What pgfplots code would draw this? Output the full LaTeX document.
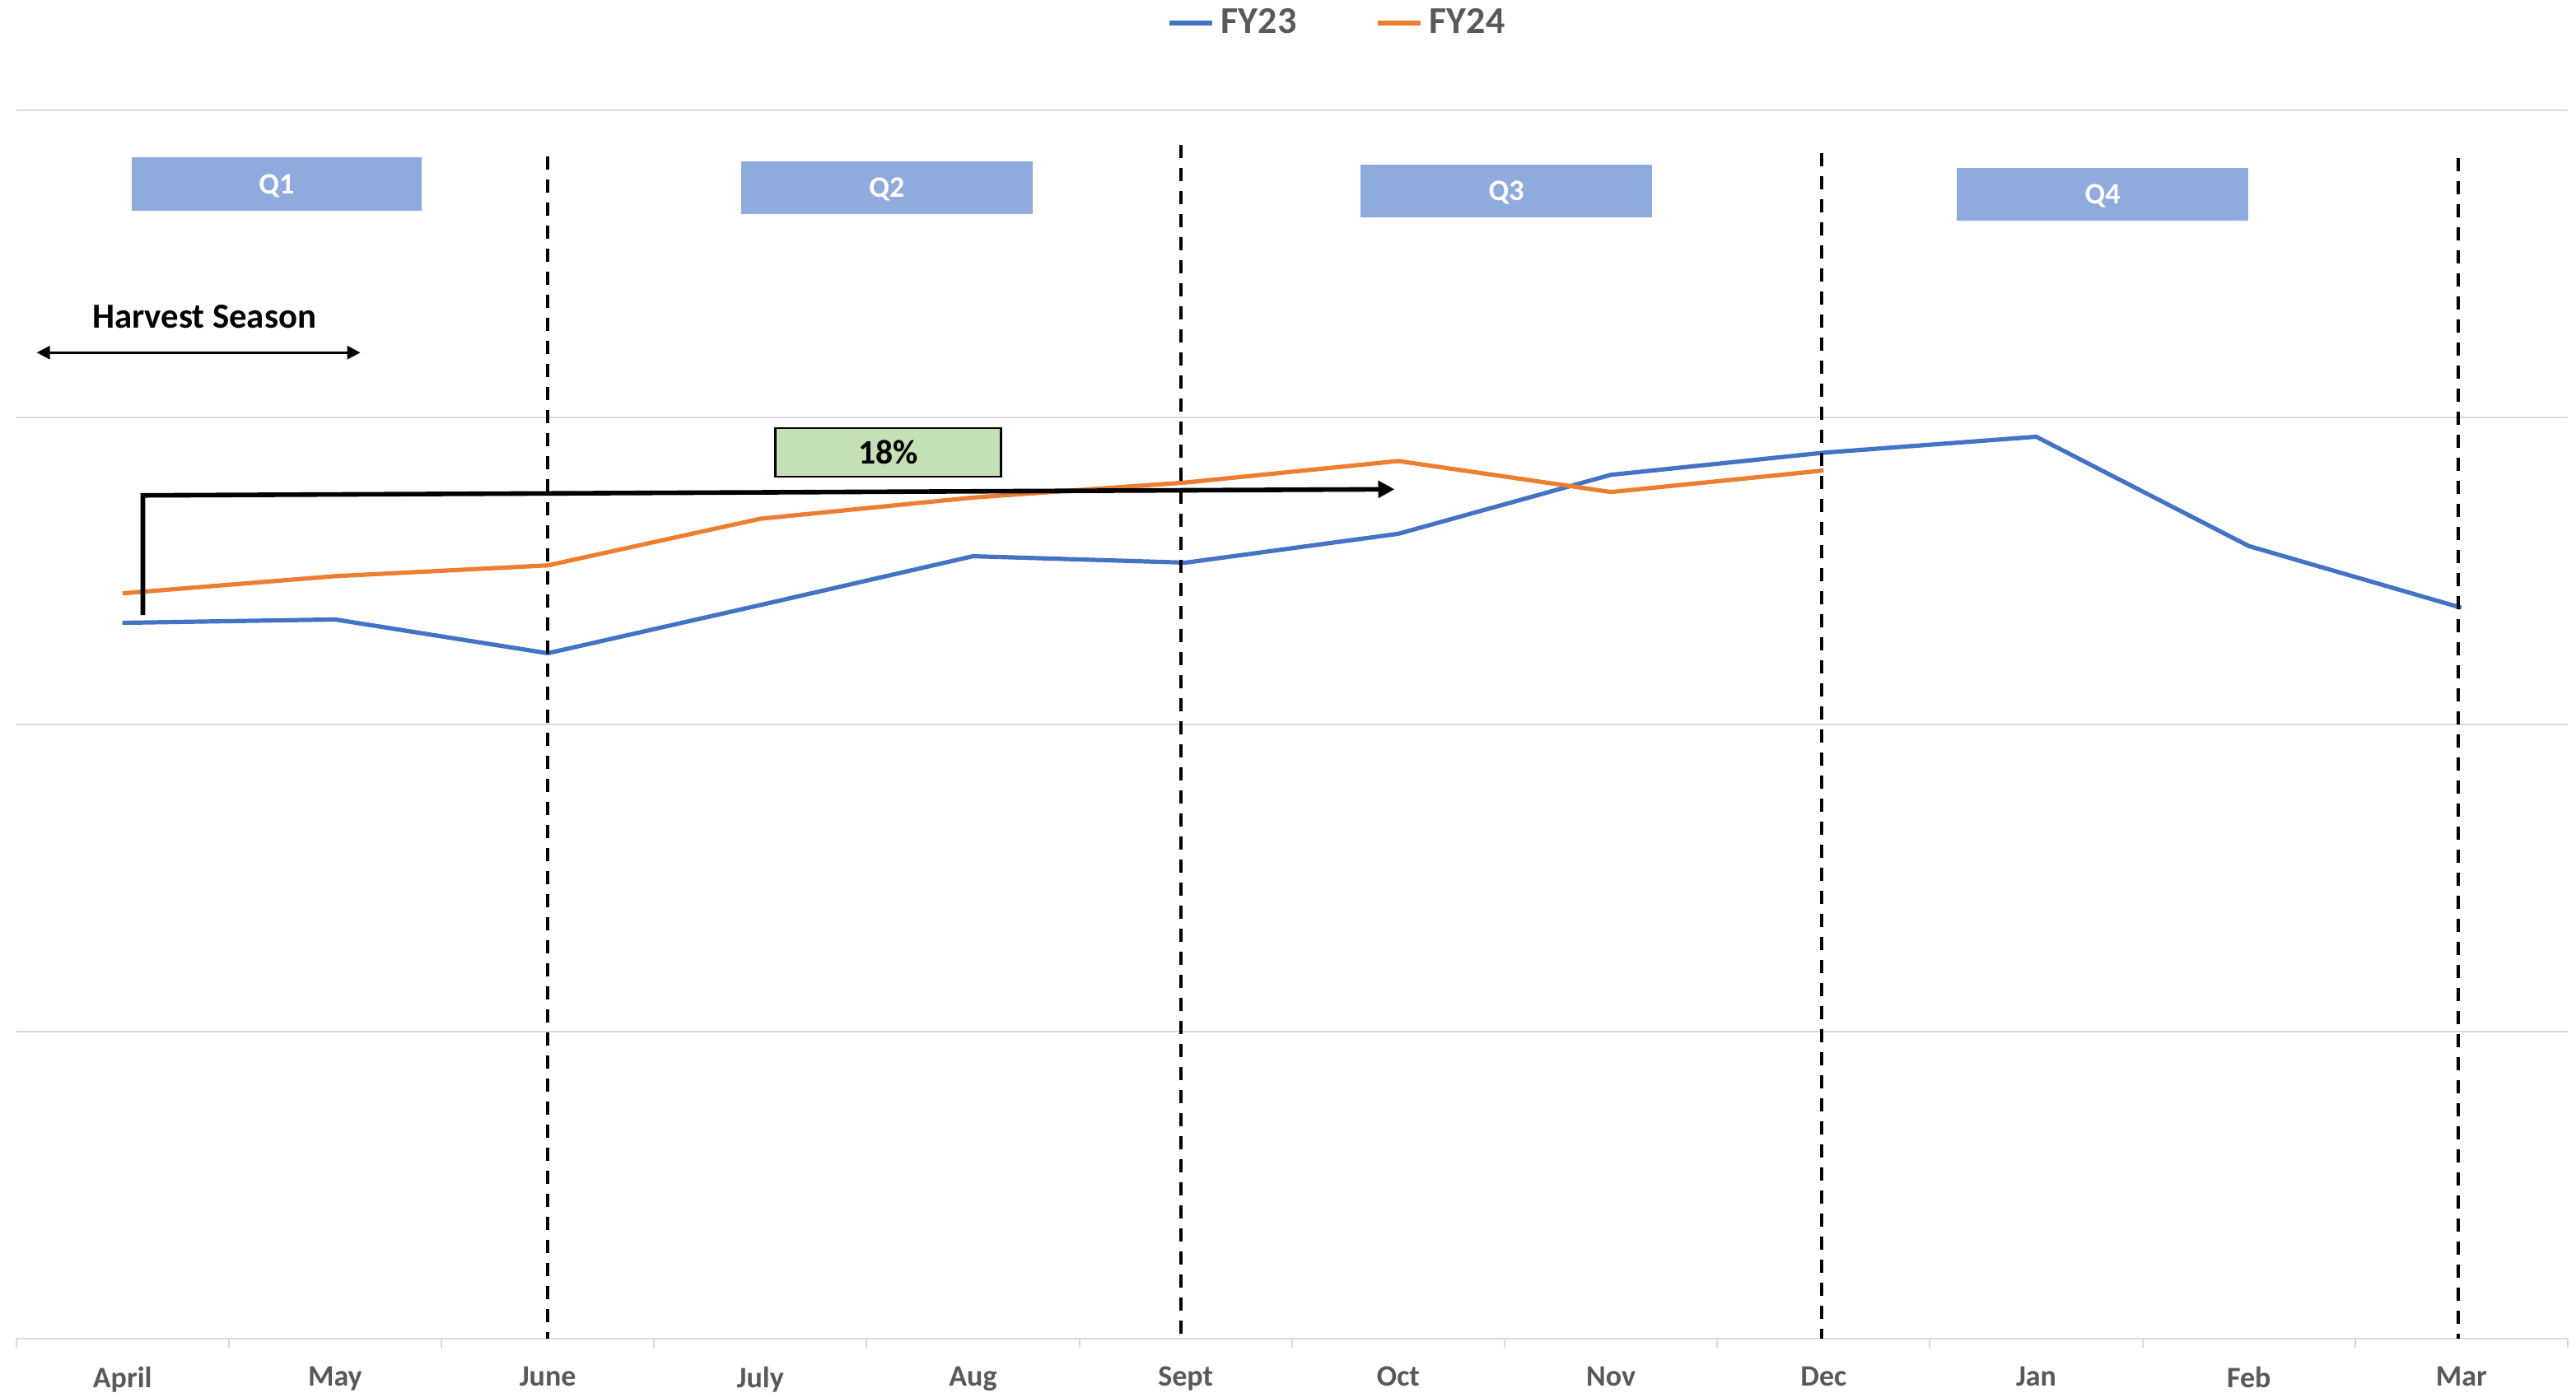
\documentclass[border=0pt]{standalone}
\usepackage{fontspec}
\setmainfont{Carlito}
\usepackage{pgfplots}
\pgfplotsset{compat=1.18}
\usetikzlibrary{arrows.meta}
\definecolor{fyblue}{HTML}{4472C4}
\definecolor{fyorange}{HTML}{ED7D31}
\definecolor{qblue}{HTML}{8FAADC}
\definecolor{pctgreen}{HTML}{C5E0B4}
\definecolor{txtgray}{HTML}{595959}
\definecolor{gridgray}{HTML}{D9D9D9}

\begin{document}
\begin{tikzpicture}
\begin{axis}[
  name=ax,
  scale only axis, width=774.6pt, height=373pt,
  xmin=-0.5, xmax=11.5, ymin=0, ymax=4,
  xtick={0,...,11},
  xticklabels={April,May,June,July,Aug,Sept,Oct,Nov,Dec,Jan,Feb,Mar},
  minor xtick={-0.5,0.5,...,11.5},
  major tick length=0pt, minor tick length=2.7pt,
  tick align=outside, xtick pos=left, ytick pos=left,
  minor tick style={gridgray, line width=0.5pt},
  ytick={0,1,2,3,4}, yticklabels={},
  ymajorgrids, major grid style={gridgray, line width=0.5pt},
  axis line style={draw=none},
  xticklabel style={font=\fontsize{9}{10}\selectfont\bfseries, text=txtgray, yshift=-5pt},
  legend columns=2,
  legend style={at={(0.5186,1)}, anchor=center, yshift=26.5pt, draw=none, fill=none,
    font=\fontsize{11.5}{12}\selectfont\bfseries, text=txtgray,
    /tikz/every even column/.append style={column sep=22pt}},
  legend image code/.code={\draw[#1] (0pt,0pt) -- (13pt,0pt);},
  clip=false,
]
\addplot[fyblue, line width=1.3pt, line join=round] coordinates {
  (0,2.331) (1,2.342) (2,2.232) (3,2.389) (4,2.548) (5,2.527)
  (6,2.621) (7,2.813) (8,2.885) (9,2.937) (10,2.581) (11,2.380)};
\addlegendentry{FY23}
\addplot[fyorange, line width=1.3pt, line join=round] coordinates {
  (0,2.427) (1,2.483) (2,2.518) (3,2.670) (4,2.739) (5,2.788)
  (6,2.858) (7,2.757) (8,2.827)};
\addlegendentry{FY24}

% quarter separators
\draw[line width=1pt, dash pattern=on 4pt off 3pt] (axis cs:2,3.85) -- (axis cs:2,0);
\draw[line width=1pt, dash pattern=on 4pt off 3pt] (axis cs:4.977,3.887) -- (axis cs:4.977,0);
\draw[line width=1pt, dash pattern=on 4pt off 3pt] (axis cs:7.99,3.86) -- (axis cs:7.99,0);
\draw[line width=1pt, dash pattern=on 4pt off 3pt] (axis cs:10.986,3.844) -- (axis cs:10.986,0);

% quarter labels
\fill[qblue] (axis cs:0.044,3.674) rectangle (axis cs:1.407,3.847);
\fill[qblue] (axis cs:2.910,3.662) rectangle (axis cs:4.281,3.834);
\fill[qblue] (axis cs:5.822,3.651) rectangle (axis cs:7.193,3.823);
\fill[qblue] (axis cs:8.626,3.641) rectangle (axis cs:9.997,3.812);
\tikzset{qlab/.style={anchor=base, text=white, font=\fontsize{9}{10}\selectfont\bfseries}}
\node[qlab] at (axis cs:0.725,3.729) {Q1};
\node[qlab] at (axis cs:3.595,3.717) {Q2};
\node[qlab] at (axis cs:6.508,3.706) {Q3};
\node[qlab] at (axis cs:9.312,3.695) {Q4};

% harvest season
\node[anchor=base, font=\fontsize{10.7}{12}\selectfont\bfseries] at (axis cs:0.385,3.292) {Harvest Season};
\draw[line width=0.7pt, {Triangle[length=4pt,width=4pt]}-{Triangle[length=4pt,width=4pt]}]
  (axis cs:-0.403,3.211) -- (axis cs:1.119,3.211);

% growth bracket
\draw[line width=0.7pt, fill=pctgreen] (axis cs:3.072,2.807) rectangle (axis cs:4.132,2.965);
\node[anchor=base, font=\fontsize{10.4}{12}\selectfont\bfseries] at (axis cs:3.602,2.849) {18\%};
\draw[line width=1.4pt, miter limit=10, -{Triangle[length=5pt,width=5pt]}]
  (axis cs:0.096,2.356) -- (axis cs:0.096,2.746) -- (axis cs:5.983,2.766);
\end{axis}
\pgfresetboundingbox
\path ([shift={(-4.9pt,-16.5pt)}]ax.south west) rectangle ([shift={(2.5pt,33.5pt)}]ax.north east);
\end{tikzpicture}
\end{document}
